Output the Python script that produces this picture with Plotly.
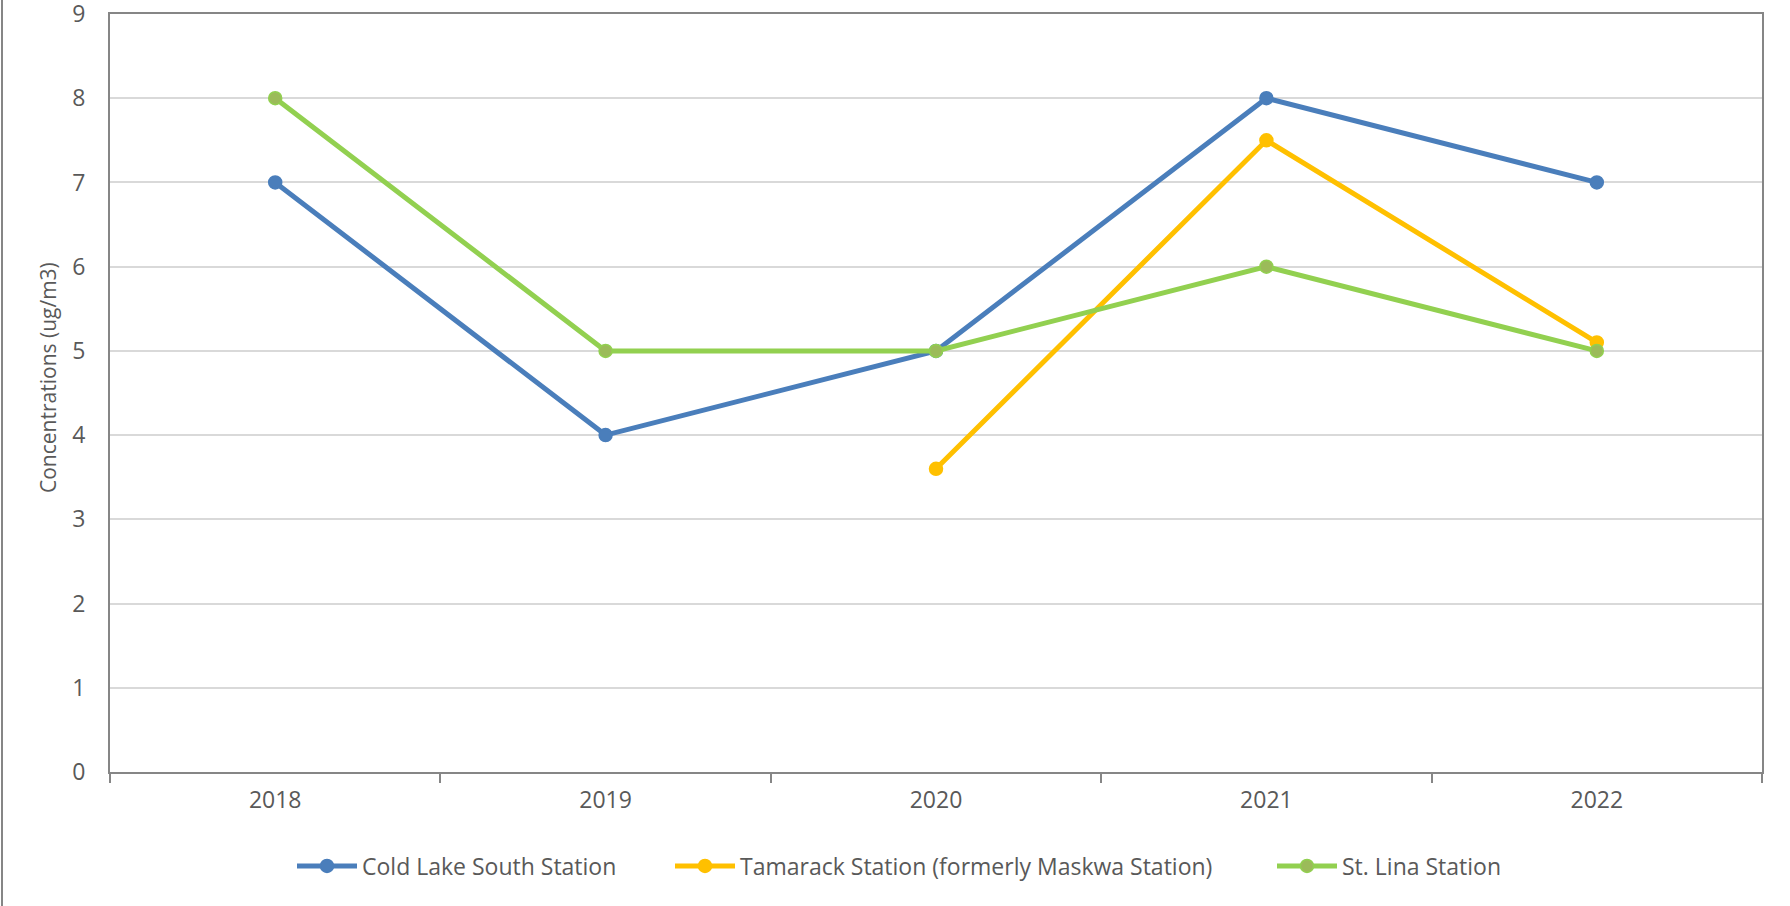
import plotly.graph_objects as go

years = ["2018", "2019", "2020", "2021", "2022"]
cold_lake_south = [7, 4, 5, 8, 7]
tamarack = [None, None, 3.6, 7.5, 5.1]
st_lina = [8, 5, 5, 6, 5]

series = [
    ("Cold Lake South Station", cold_lake_south, "#4A7EBB", "#4A7EBB"),
    ("Tamarack Station (formerly Maskwa Station)", tamarack, "#FFC000", "#FFC000"),
    ("St. Lina Station", st_lina, "#92D050", "#9BBB59"),
]
y_title = "Concentrations (ug/m3)"

FONT = "Open Sans"
TEXT = "#595959"
AXIS = "#868686"
FS = 23

W, H = 1790, 906
L, R, T, B = 110, 28, 14, 134
pw = W - L - R
ph = H - T - B

# left edge of each legend entry, in pixels
legend_left = [292, 670, 1272]
legend_ids = ["legend", "legend2", "legend3"]

fig = go.Figure()
for (name, vals, line_col, mark_col), lid in zip(series, legend_ids):
    fig.add_trace(go.Scatter(
        x=years, y=vals, name=name, mode="lines+markers",
        line=dict(color=line_col, width=5),
        marker=dict(color=mark_col, size=13, line=dict(color=line_col, width=1.5)),
        connectgaps=False, legend=lid,
    ))

legend_common = dict(
    orientation="h", xanchor="left", yanchor="middle",
    y=-(866 - (T + ph)) / ph, font=dict(size=FS, color=TEXT, family=FONT),
    itemwidth=60, bgcolor="rgba(0,0,0,0)",
)

fig.update_layout(
    width=W, height=H,
    margin=dict(l=L, r=R, t=T, b=B, autoexpand=False),
    paper_bgcolor="white", plot_bgcolor="white",
    font=dict(family=FONT, size=FS, color=TEXT),
    showlegend=True,
    legend=dict(x=(legend_left[0] - L) / pw, **legend_common),
    legend2=dict(x=(legend_left[1] - L) / pw, **legend_common),
    legend3=dict(x=(legend_left[2] - L) / pw, **legend_common),
    xaxis=dict(
        type="category", tickson="boundaries", ticks="outside", ticklen=9,
        tickwidth=2, tickcolor=AXIS, showline=True, linecolor=AXIS, linewidth=2,
        mirror=True, showgrid=False, range=[-0.5, 4.5], automargin=False,
        tickfont=dict(size=FS, color=TEXT), ticklabelstandoff=6,
    ),
    yaxis=dict(
        range=[0, 9], dtick=1, showline=True, linecolor=AXIS, linewidth=2,
        mirror=True, showgrid=True, gridcolor="#D9D9D9", gridwidth=1.5,
        zeroline=False, ticks="", tickfont=dict(size=FS, color=TEXT),
        ticklabelstandoff=18, ticklabeloverflow="allow", automargin=False,
    ),
    annotations=[dict(
        text=y_title, textangle=-90, showarrow=False,
        xref="paper", yref="paper", x=(48 - L) / pw, y=(T + ph - 378) / ph,
        xanchor="center", yanchor="middle",
        font=dict(size=21, color=TEXT, family=FONT),
    )],
    shapes=[dict(
        type="line", xref="paper", yref="paper",
        x0=(2 - L) / pw, x1=(2 - L) / pw, y0=-B / ph, y1=1 + T / ph,
        line=dict(color=AXIS, width=2),
    )],
)

fig.write_html("out.html")
